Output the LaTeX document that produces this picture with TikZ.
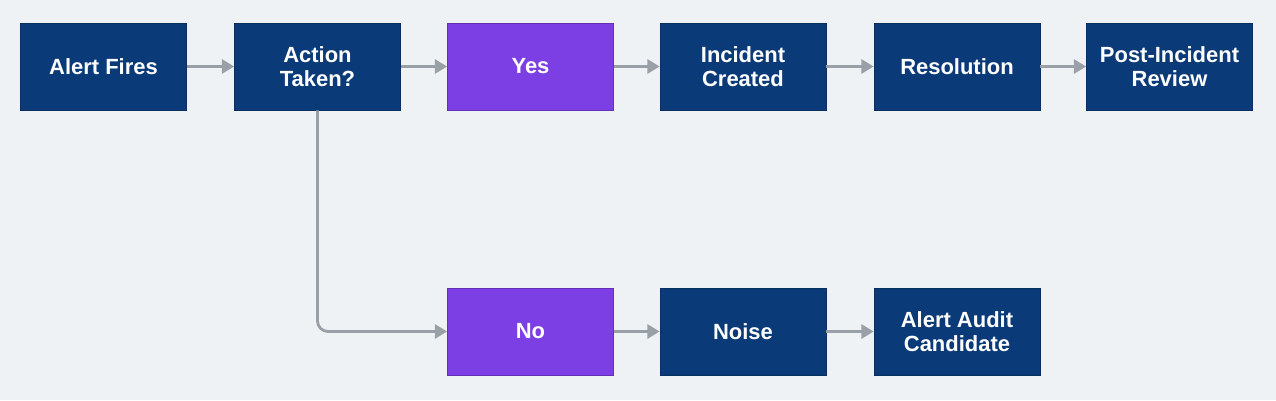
\documentclass[tikz,border=0pt]{standalone}
\usepackage{fontspec}
\setmainfont{Liberation Sans}
\usetikzlibrary{arrows.meta}
\definecolor{bg}{HTML}{EFF2F5}
\definecolor{navy}{HTML}{0B3A78}
\definecolor{purp}{HTML}{7B3FE4}
\definecolor{arr}{HTML}{9AA0A8}
\begin{document}
\begin{tikzpicture}[x=0.02cm,y=-0.02cm,
  box/.style={draw=navy!80!black,line width=0.4pt,fill=navy,text=white,minimum width=3.32cm,minimum height=1.74cm,align=center,font=\fontsize{12.5}{14}\selectfont\bfseries,inner sep=0pt},
  pbox/.style={box,fill=purp,draw=purp!80!black},
  conn/.style={draw=arr,line width=1.6pt,-{Triangle[length=7pt,width=8pt]}}]
\fill[bg] (0,0) rectangle (1276,400);
\node[box] (a) at (103.5,66.5) {Alert Fires};
\node[box] (b) at (317.5,66.5) {Action\\Taken?};
\node[pbox] (y) at (530.5,66.5) {Yes};
\node[box] (i) at (743,66.5) {Incident\\Created};
\node[box] (r) at (957,66.5) {Resolution};
\node[box] (p) at (1169.5,66.5) {Post-Incident\\Review};
\node[pbox] (n) at (530.5,331.5) {No};
\node[box] (z) at (743,331.5) {Noise};
\node[box] (c) at (957,331.5) {Alert Audit\\Candidate};
\draw[conn] (a) -- (b);
\draw[conn] (b) -- (y);
\draw[conn] (y) -- (i);
\draw[conn] (i) -- (r);
\draw[conn] (r) -- (p);
\draw[conn,rounded corners=6pt] (b.south) |- (n.west);
\draw[conn] (n) -- (z);
\draw[conn] (z) -- (c);
\end{tikzpicture}
\end{document}
